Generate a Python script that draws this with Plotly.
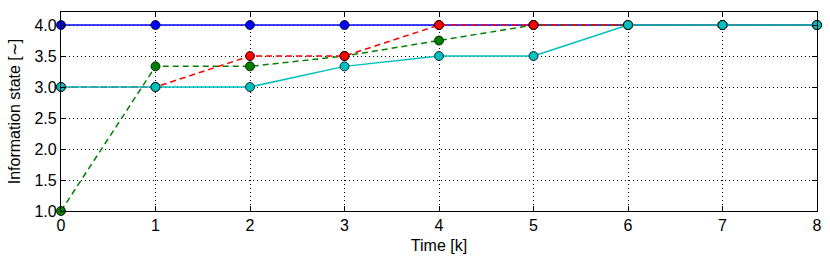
import plotly.graph_objects as go

time = [0, 1, 2, 3, 4, 5, 6, 7, 8]
blue = [4.0, 4.0, 4.0, 4.0, 4.0, 4.0, 4.0, 4.0, 4.0]
green = [1.0, 3.333, 3.333, 3.5, 3.75, 4.0, 4.0, 4.0, 4.0]
red = [3.0, 3.0, 3.5, 3.5, 4.0, 4.0, 4.0, 4.0, 4.0]
cyan = [3.0, 3.0, 3.0, 3.333, 3.5, 3.5, 4.0, 4.0, 4.0]

series = [
    (blue, "#0000ff", "solid"),
    (green, "#008000", "6px,4px"),
    (red, "#ff0000", "6px,4px"),
    (cyan, "#00bfbf", "solid"),
]

fig = go.Figure()
for ys, col, dash in series:
    fig.add_trace(go.Scatter(
        x=time, y=ys, mode="lines+markers",
        line=dict(color=col, width=1.5, dash=dash),
        marker=dict(color=col, size=9, line=dict(color="black", width=0.8)),
        cliponaxis=False, showlegend=False,
    ))

FONT = "Liberation Sans, Arial, Helvetica"
axis_common = dict(
    showline=True, linecolor="black", linewidth=1.3, mirror="ticks",
    ticks="inside", ticklen=5, tickcolor="black",
    showgrid=True, gridcolor="black", griddash="1px,3px", gridwidth=1,
    zeroline=False, automargin=False,
    tickfont=dict(family=FONT, size=16, color="black"),
)

fig.update_layout(
    width=830, height=258,
    margin=dict(l=61, r=13, t=12, b=47),
    paper_bgcolor="white", plot_bgcolor="white",
    xaxis=dict(range=[0, 8], dtick=1, tickformat="d",
               title=dict(text="Time [k]", standoff=6,
                          font=dict(family=FONT, size=16, color="black")),
               **axis_common),
    yaxis=dict(range=[1.0, 4.21], tickvals=[1.0, 1.5, 2.0, 2.5, 3.0, 3.5, 4.0],
               tickformat=".1f",
               title=dict(text="Information state [∼]", standoff=9,
                          font=dict(family=FONT, size=16, color="black")),
               **axis_common),
)

fig.write_html("out.html", config={"displayModeBar": False},
               post_script="document.body.style.margin='0';document.body.style.overflow='hidden';")
